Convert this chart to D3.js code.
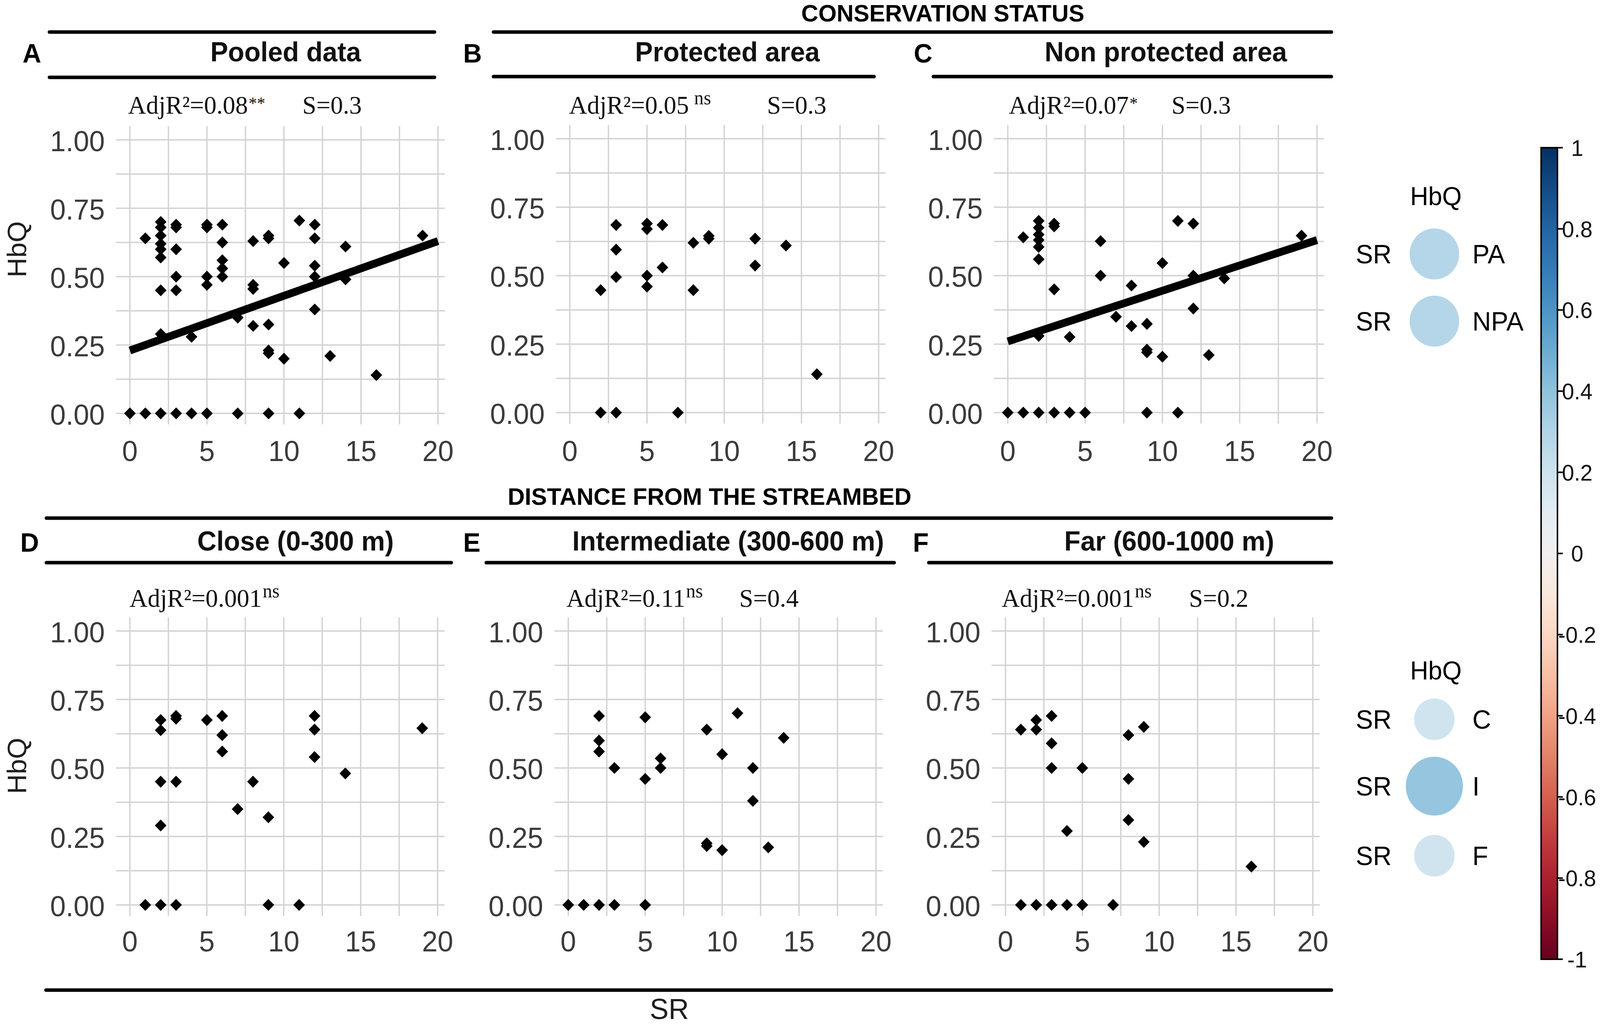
<!DOCTYPE html>
<html>
<head>
<meta charset="utf-8">
<script src="https://cdn.jsdelivr.net/npm/d3@7"></script>
<style>
  html, body { margin: 0; padding: 0; background: #fff; overflow: hidden; width: 100%; height: 100%; }
  #chart { width: 100vw; height: 100vh; }
  svg { display: block; }
</style>
</head>
<body>
<div id="chart"></div>
<script>
// ===== SR vs HbQ faceted scatter plots =====

// ---- data ----
const xTicks = [0, 5, 10, 15, 20];
const yTicks = [0, 0.25, 0.5, 0.75, 1];
const yTickLabels = ['0.00', '0.25', '0.50', '0.75', '1.00'];

const panelLetters = ['A', 'B', 'C', 'D', 'E', 'F'];
const panelTitles = ['Pooled data', 'Protected area', 'Non protected area',
  'Close (0-300 m)', 'Intermediate (300-600 m)', 'Far (600-1000 m)'];
const adjR2 = ['0.08', '0.05', '0.07', '0.001', '0.11', '0.001'];
const signif = ['**', 'ns', '*', 'ns', 'ns', 'ns'];
const sValues = ['0.3', '0.3', '0.3', null, '0.4', '0.2'];

// [SR, HbQ]
const pooled = [
  [0, 0], [1, 0], [1, 0.64],
  [2, 0], [2, 0.29], [2, 0.45], [2, 0.57], [2, 0.60], [2, 0.62], [2, 0.65], [2, 0.68], [2, 0.70],
  [3, 0], [3, 0.45], [3, 0.50], [3, 0.60], [3, 0.68], [3, 0.69],
  [4, 0], [4, 0.28],
  [5, 0], [5, 0.47], [5, 0.50], [5, 0.68], [5, 0.69],
  [6, 0.50], [6, 0.53], [6, 0.56], [6, 0.625], [6, 0.69],
  [7, 0], [7, 0.35],
  [8, 0.32], [8, 0.455], [8, 0.47], [8, 0.63],
  [9, 0], [9, 0.22], [9, 0.23], [9, 0.325], [9, 0.64], [9, 0.65],
  [10, 0.20], [10, 0.55],
  [11, 0], [11, 0.705],
  [12, 0.38], [12, 0.50], [12, 0.54], [12, 0.64], [12, 0.69],
  [13, 0.21], [14, 0.49], [14, 0.61], [16, 0.14], [19, 0.65]
];
const protectedArea = [
  [2, 0], [2, 0.447], [3, 0], [3, 0.495], [3, 0.595], [3, 0.685],
  [5, 0.46], [5, 0.50], [5, 0.67], [5, 0.69], [6, 0.53], [6, 0.685],
  [7, 0], [8, 0.447], [8, 0.62], [9, 0.635], [9, 0.645],
  [12, 0.537], [12, 0.635], [14, 0.61], [16, 0.14]
];
const nonProtectedArea = [
  [0, 0], [1, 0], [1, 0.64],
  [2, 0], [2, 0.28], [2, 0.56], [2, 0.605], [2, 0.63], [2, 0.65], [2, 0.675], [2, 0.70],
  [3, 0], [3, 0.45], [3, 0.68], [3, 0.69], [4, 0], [4, 0.276], [5, 0],
  [6, 0.50], [6, 0.626], [7, 0.35], [8, 0.316], [8, 0.464],
  [9, 0], [9, 0.22], [9, 0.23], [9, 0.324], [10, 0.204], [10, 0.546],
  [11, 0], [11, 0.70], [12, 0.38], [12, 0.50], [12, 0.69],
  [13, 0.21], [14, 0.49], [19, 0.646]
];
const closeDist = [
  [1, 0], [2, 0], [2, 0.29], [2, 0.45], [2, 0.638], [2, 0.675],
  [3, 0], [3, 0.45], [3, 0.68], [3, 0.69], [5, 0.675],
  [6, 0.56], [6, 0.62], [6, 0.69], [7, 0.35], [8, 0.45],
  [9, 0], [9, 0.32], [11, 0], [12, 0.54], [12, 0.64], [12, 0.69],
  [14, 0.48], [19, 0.645]
];
const intermediateDist = [
  [0, 0], [1, 0], [2, 0], [3, 0], [5, 0],
  [2, 0.56], [2, 0.60], [2, 0.69], [3, 0.50], [5, 0.46], [5, 0.685],
  [6, 0.50], [6, 0.535], [9, 0.215], [9, 0.225], [9, 0.64],
  [10, 0.20], [10, 0.55], [11, 0.70], [12, 0.38], [12, 0.50],
  [13, 0.21], [14, 0.61]
];
const farDist = [
  [1, 0], [1, 0.64], [2, 0], [2, 0.64], [2, 0.675],
  [3, 0], [3, 0.50], [3, 0.59], [3, 0.69], [4, 0], [4, 0.27],
  [5, 0], [5, 0.50], [7, 0], [8, 0.31], [8, 0.46], [8, 0.62],
  [9, 0.23], [9, 0.65], [16, 0.14]
];

// fitted lines (SR 0 -> 20)
const fitSR = [0, 20];
const fitPooled = [0.23, 0.63];
const fitNonProtected = [0.26, 0.63];

// size / colour legends
const statusKeys = ['PA', 'NPA'];
const statusS = [0.3, 0.3];
const distanceKeys = ['C', 'I', 'F'];
const distanceS = [0.2, 0.4, 0.2];
const colorbarTicks = [1, 0.8, 0.6, 0.4, 0.2, 0, -0.2, -0.4, -0.6, -0.8, -1];

// ---- layout ----
const W = 4212, H = 2631;
const SANS = "'Liberation Sans', Arial, Helvetica, sans-serif";
const SERIF = "'Liberation Serif', 'Times New Roman', serif";

const panels = [
  { data: pooled, fit: fitPooled, x0: 342, x1: 1153, yTop: 358, yBot: 1058, letterX: 84, titleX: 752, annX: 337, sX: 796 },
  { data: protectedArea, fit: null, x0: 1500, x1: 2313, yTop: 355, yBot: 1056, letterX: 1244, titleX: 1915, annX: 1498, sX: 2019 },
  { data: nonProtectedArea, fit: fitNonProtected, x0: 2653, x1: 3467, yTop: 355, yBot: 1056, letterX: 2430, titleX: 3069, annX: 2656, sX: 3084 },
  { data: closeDist, fit: null, x0: 342, x1: 1152, yTop: 1615, yBot: 2316, letterX: 78, titleX: 778, annX: 341, sX: null },
  { data: intermediateDist, fit: null, x0: 1496, x1: 2306, yTop: 1615, yBot: 2316, letterX: 1242, titleX: 1917, annX: 1491, sX: 1946 },
  { data: farDist, fit: null, x0: 2647, x1: 3456, yTop: 1615, yBot: 2316, letterX: 2424, titleX: 3078, annX: 2637, sX: 3130 }
];
const rowText = [
  { title: 157, ann: 291, xlab: 1180, ylabY: 638 },
  { title: 1409, ann: 1553, xlab: 2435, ylabY: 1960 }
];

// viewBox so the whole figure fits whatever the viewport turns out to be
const svg = d3.select('#chart')
  .append('svg')
  .attr('viewBox', `0 0 ${W} ${H}`)
  .attr('preserveAspectRatio', 'none')
  .attr('width', '100%')
  .attr('height', '100%')
  .style('font-family', SANS);

svg.append('rect').attr('width', W).attr('height', H).attr('fill', '#fff');

// ---- panels ----
panels.forEach((p, i) => {
  const row = i < 3 ? 0 : 1;
  const rt = rowText[row];
  const x = d3.scaleLinear().domain([0, 20]).range([p.x0, p.x1]);
  const y = d3.scaleLinear().domain([0, 1]).range([p.yBot, p.yTop]);
  const g = svg.append('g');

  // grid (major + minor look alike here)
  const xGrid = d3.range(0, 20.01, 2.5);
  const yGrid = d3.range(0, 1.001, 0.125);
  g.selectAll('line.vg').data(xGrid).join('line')
    .attr('x1', d => x(d)).attr('x2', d => x(d))
    .attr('y1', y(1.05)).attr('y2', y(-0.04))
    .attr('stroke', '#d2d2d2').attr('stroke-width', 3.5);
  g.selectAll('line.hg').data(yGrid).join('line')
    .attr('x1', x(-0.9)).attr('x2', x(20.45))
    .attr('y1', d => y(d)).attr('y2', d => y(d))
    .attr('stroke', '#d2d2d2').attr('stroke-width', 3.5);

  // tick labels
  g.selectAll('text.yt').data(yTicks).join('text')
    .attr('x', p.x0 - 66)
    .attr('y', d => y(d) + 29)
    .attr('text-anchor', 'end')
    .attr('font-size', 74)
    .attr('fill', '#3b3b3b')
    .text((d, k) => yTickLabels[k]);
  g.selectAll('text.xt').data(xTicks).join('text')
    .attr('x', d => x(d))
    .attr('y', rt.xlab)
    .attr('text-anchor', 'middle')
    .attr('font-size', 74)
    .attr('fill', '#3b3b3b')
    .text(d => d);

  // points (filled diamonds)
  const diamond = d3.symbol().type(d3.symbolSquare).size(470);
  g.selectAll('path.pt').data(p.data).join('path')
    .attr('d', diamond)
    .attr('transform', d => `translate(${x(d[0])},${y(d[1])}) rotate(45)`)
    .attr('fill', '#000');

  // regression line
  if (p.fit) {
    const line = d3.line().x(d => x(d[0])).y(d => y(d[1]));
    g.append('path')
      .datum(fitSR.map((s, k) => [s, p.fit[k]]))
      .attr('d', line)
      .attr('fill', 'none')
      .attr('stroke', '#000')
      .attr('stroke-width', 20);
  }

  // y axis title only on first column
  if (i % 3 === 0) {
    svg.append('text')
      .attr('transform', `translate(69,${rt.ylabY}) rotate(-90)`)
      .attr('text-anchor', 'middle')
      .attr('font-size', 70)
      .attr('fill', '#1e1e1e')
      .text('HbQ');
  }

  // letter + strip title
  svg.append('text')
    .attr('x', p.letterX).attr('y', rt.title + 3)
    .attr('text-anchor', 'middle')
    .attr('font-size', 68).attr('font-weight', 'bold')
    .text(panelLetters[i]);
  svg.append('text')
    .attr('x', p.titleX).attr('y', rt.title)
    .attr('text-anchor', 'middle')
    .attr('font-size', 70).attr('font-weight', 'bold')
    .attr('fill', '#111')
    .text(panelTitles[i]);

  // AdjR2 annotation
  const ann = svg.append('text')
    .attr('x', p.annX).attr('y', rt.ann)
    .attr('font-family', SERIF)
    .attr('font-size', 66)
    .attr('fill', '#111');
  ann.append('tspan').text('AdjR\u00B2=' + adjR2[i]);
  ann.append('tspan')
    .attr('dx', signif[i] === 'ns' && i === 1 ? 14 : 2)
    .attr('dy', signif[i] === 'ns' ? -24 : -12)
    .attr('font-size', signif[i] === 'ns' ? 50 : 44)
    .text(signif[i]);
  if (sValues[i]) {
    svg.append('text')
      .attr('x', p.sX).attr('y', rt.ann)
      .attr('font-family', SERIF)
      .attr('font-size', 66)
      .attr('fill', '#111')
      .text('S=' + sValues[i]);
  }
});

// ---- strip rules ----
const rules = [
  [130, 1144, 82], [1299, 3505, 82],
  [130, 1144, 198], [1299, 2301, 196], [2457, 3505, 196],
  [122, 3505, 1326],
  [122, 1188, 1440], [1280, 2354, 1440], [2445, 3505, 1440],
  [121, 3505, 2534]
];
svg.selectAll('line.rule').data(rules).join('line')
  .attr('x1', d => d[0]).attr('x2', d => d[1])
  .attr('y1', d => d[2]).attr('y2', d => d[2])
  .attr('stroke', '#000').attr('stroke-width', 9)
  .attr('stroke-linecap', 'round');

// group headers
svg.append('text')
  .attr('x', 2482).attr('y', 55)
  .attr('text-anchor', 'middle')
  .attr('font-size', 62).attr('font-weight', 'bold')
  .text('CONSERVATION STATUS');
svg.append('text')
  .attr('x', 1868).attr('y', 1292)
  .attr('text-anchor', 'middle')
  .attr('font-size', 62).attr('font-weight', 'bold')
  .text('DISTANCE FROM THE STREAMBED');

// shared x title
svg.append('text')
  .attr('x', 1762).attr('y', 2608)
  .attr('text-anchor', 'middle')
  .attr('font-size', 74)
  .attr('fill', '#1e1e1e')
  .text('SR');

// ---- colour bar ----
const cbY = d3.scaleLinear().domain([-1, 1]).range([2455, 378]);
const cbColor = v => d3.interpolateRdBu((v + 1) / 2);
const defs = svg.append('defs');
const grad = defs.append('linearGradient')
  .attr('id', 'cb-grad')
  .attr('x1', 0).attr('x2', 0).attr('y1', 0).attr('y2', 1);
d3.range(1, -1.001, -0.1).forEach(v => {
  grad.append('stop')
    .attr('offset', `${(1 - v) / 2 * 100}%`)
    .attr('stop-color', cbColor(v));
});
svg.append('rect')
  .attr('x', 4057).attr('y', cbY(1))
  .attr('width', 43).attr('height', cbY(-1) - cbY(1))
  .attr('fill', 'url(#cb-grad)')
  .attr('stroke', '#000').attr('stroke-width', 4);
svg.selectAll('line.cbt').data(colorbarTicks).join('line')
  .attr('x1', 4100).attr('x2', 4114)
  .attr('y1', d => cbY(d)).attr('y2', d => cbY(d))
  .attr('stroke', '#000').attr('stroke-width', 4);
svg.selectAll('text.cbl').data(colorbarTicks).join('text')
  .attr('x', 4152).attr('y', d => cbY(d) + 21)
  .attr('text-anchor', 'middle')
  .attr('font-size', 58)
  .attr('fill', '#111')
  .text(d => String(d));

// ---- size legends ----
const rScale = d3.scaleSqrt().domain([0, 1]).range([0, 119]);

function sizeLegend(keys, vals, titleY, rowYs) {
  svg.append('text')
    .attr('x', 3780).attr('y', titleY)
    .attr('text-anchor', 'middle')
    .attr('font-size', 66)
    .text('HbQ');
  keys.forEach((k, j) => {
    svg.append('text')
      .attr('x', 3569).attr('y', rowYs[j] + 24)
      .attr('font-size', 68)
      .text('SR');
    svg.append('circle')
      .attr('cx', 3776).attr('cy', rowYs[j])
      .attr('r', rScale(vals[j]))
      .attr('fill', cbColor(vals[j]))
      .attr('opacity', 0.95);
    svg.append('text')
      .attr('x', 3876).attr('y', rowYs[j] + 24)
      .attr('font-size', 68)
      .text(k);
  });
}
sizeLegend(statusKeys, statusS, 525, [650, 822]);
sizeLegend(distanceKeys, distanceS, 1739, [1841, 2012, 2190]);
</script>
</body>
</html>
